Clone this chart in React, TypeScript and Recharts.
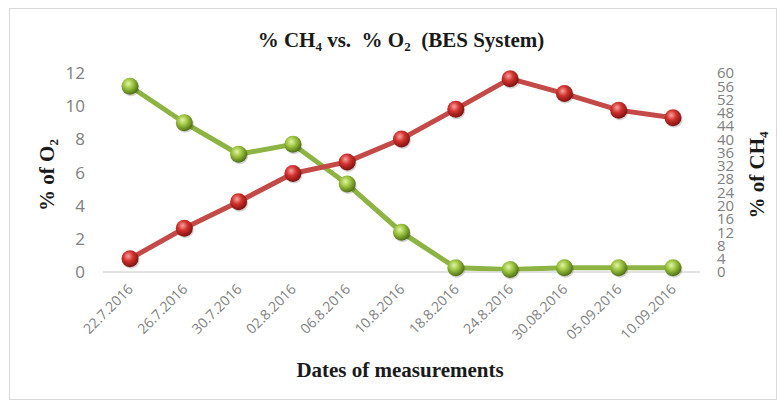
import React from 'react';
import { LineChart, Line, XAxis, YAxis } from 'recharts';

const dates = [
  '22.7.2016', '26.7.2016', '30.7.2016', '02.8.2016', '06.8.2016', '10.8.2016',
  '18.8.2016', '24.8.2016', '30.08.2016', '05.09.2016', '10.09.2016',
];
// % O2, left axis
const o2Values = [11.2, 9.0, 7.1, 7.7, 5.3, 2.4, 0.25, 0.15, 0.25, 0.25, 0.25];
// % CH4, right axis
const ch4Values = [4, 13.2, 21.2, 29.7, 33.2, 40.1, 49.1, 58.3, 53.8, 48.8, 46.5];

const o2Ticks = [0, 2, 4, 6, 8, 10, 12];
const ch4Ticks = [0, 4, 8, 12, 16, 20, 24, 28, 32, 36, 40, 44, 48, 52, 56, 60];

const data = dates.map((date, i) => ({ date, o2: o2Values[i], ch4: ch4Values[i] }));

const W = 779;
const H = 403;
const serif = '"Liberation Serif", "Times New Roman", serif';
const tickFont = '"Open Sans", sans-serif';

const titleStyle: React.CSSProperties = {
  position: 'absolute', whiteSpace: 'nowrap', fontFamily: serif, fontWeight: 'bold',
  fontSize: 21, lineHeight: '24px', color: '#1a1a1a',
};
const subStyle: React.CSSProperties = { fontSize: 13, verticalAlign: -4, lineHeight: 0 };

const DateTick = ({ x, y, payload }: any) => (
  <text
    x={x + 4}
    y={y + 10}
    transform={`rotate(-45, ${x + 4}, ${y + 10})`}
    textAnchor="end"
    fill="#808080"
    fontSize={14}
    fontFamily={tickFont}
  >
    {payload.value}
  </text>
);

const makeDot = (grad: string) => (props: any) => {
  const { cx, cy, index } = props;
  if (cx == null || cy == null) return <g key={index} />;
  return (
    <g key={index}>
      <circle cx={cx + 1} cy={cy + 1.5} r={8.5} fill="rgba(0,0,0,0.18)" />
      <circle cx={cx} cy={cy} r={8.5} fill={`url(#${grad})`} />
    </g>
  );
};

export default function App() {
  return (
    <div style={{ position: 'absolute', left: 0, top: 0, width: W, height: H, background: '#fff' }}>
      <div
        style={{
          position: 'absolute', left: 9, top: 8, width: 768, height: 392,
          border: '1px solid #d9d9d9', boxSizing: 'border-box',
        }}
      />
      <LineChart
        width={W}
        height={H}
        data={data}
        margin={{ top: 73, right: 34, bottom: 31, left: 43 }}
      >
        <defs>
          <radialGradient id="gGreen" cx="40%" cy="35%" r="65%">
            <stop offset="0%" stopColor="#e2f5a6" />
            <stop offset="45%" stopColor="#9cc43f" />
            <stop offset="100%" stopColor="#4e6f14" />
          </radialGradient>
          <radialGradient id="gRed" cx="40%" cy="35%" r="65%">
            <stop offset="0%" stopColor="#f7a3a0" />
            <stop offset="45%" stopColor="#d2322d" />
            <stop offset="100%" stopColor="#7e1210" />
          </radialGradient>
        </defs>
        <XAxis
          dataKey="date"
          height={100}
          tick={<DateTick />}
          tickLine={false}
          interval={0}
          padding={{ left: 27, right: 27 }}
          axisLine={{ stroke: '#d9d9d9', strokeWidth: 1.5 }}
        />
        <YAxis
          yAxisId="left"
          domain={[0, 12]}
          ticks={o2Ticks}
          width={60}
          axisLine={false}
          tickLine={false}
          tickMargin={12}
          tick={{ fill: '#808080', fontSize: 17, fontFamily: tickFont }}
        />
        <YAxis
          yAxisId="right"
          orientation="right"
          domain={[0, 60]}
          ticks={ch4Ticks}
          interval={0}
          width={45}
          axisLine={false}
          tickLine={false}
          tickMargin={11}
          tick={{ fill: '#808080', fontSize: 15, fontFamily: tickFont }}
        />
        <Line
          yAxisId="left"
          dataKey="o2"
          stroke="#8db443"
          strokeWidth={5}
          dot={makeDot('gGreen')}
          activeDot={false}
          isAnimationActive={false}
        />
        <Line
          yAxisId="right"
          dataKey="ch4"
          stroke="#c44a47"
          strokeWidth={5}
          dot={makeDot('gRed')}
          activeDot={false}
          isAnimationActive={false}
        />
      </LineChart>
      <div style={{ ...titleStyle, left: 401, top: 28, transform: 'translateX(-50%)' }}>
        % CH<sub style={subStyle}>4</sub> vs.&nbsp; % O<sub style={subStyle}>2</sub>&nbsp;&nbsp;(BES System)
      </div>
      <div style={{ ...titleStyle, left: 400, top: 358, transform: 'translateX(-50%)' }}>
        Dates of measurements
      </div>
      <div style={{ ...titleStyle, left: 47, top: 175, transform: 'translate(-50%, -50%) rotate(-90deg)' }}>
        % of O<sub style={subStyle}>2</sub>
      </div>
      <div style={{ ...titleStyle, left: 757, top: 175, transform: 'translate(-50%, -50%) rotate(-90deg)' }}>
        % of CH<sub style={subStyle}>4</sub>
      </div>
    </div>
  );
}
